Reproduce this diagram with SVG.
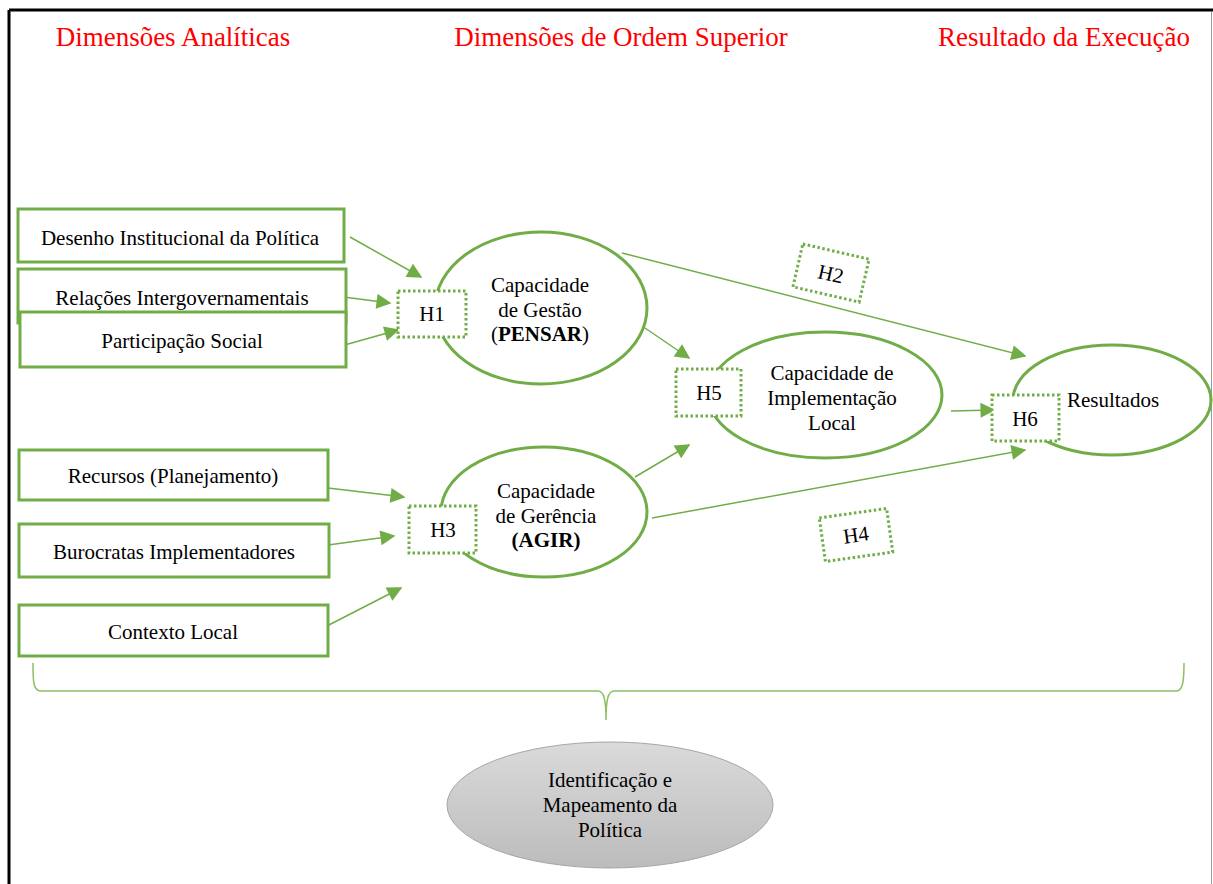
<svg xmlns="http://www.w3.org/2000/svg" width="1213" height="884" viewBox="0 0 1213 884">
<defs>
<style>
text{font-family:"Liberation Serif","Times New Roman",serif;font-size:21px;fill:#000}
.title{font-size:27px;fill:#ff0000}
.box{fill:#fff;stroke:#70ad47;stroke-width:3}
.ell{fill:#fff;stroke:#70ad47;stroke-width:3}
.hyp{fill:#fff;stroke:#70ad47;stroke-width:3;stroke-dasharray:2.5 2.5}
.con{stroke:#70ad47;stroke-width:1.5;fill:none;marker-end:url(#ah)}
.mid{text-anchor:middle}
</style>
<marker id="ah" viewBox="0 0 10 10" refX="9" refY="5" markerWidth="18" markerHeight="15" markerUnits="userSpaceOnUse" orient="auto">
<path d="M0,0 L10,5 L0,10 z" fill="#70ad47"/>
</marker>
<linearGradient id="gr" x1="0" y1="0" x2="0" y2="1">
<stop offset="0" stop-color="#dadada"/>
<stop offset="1" stop-color="#bcbcbc"/>
</linearGradient>
</defs>
<rect width="1213" height="884" fill="#fff"/>
<g id="frame">
<line x1="9" y1="10" x2="1213" y2="10" stroke="#000" stroke-width="3"/>
<line x1="9" y1="10" x2="9" y2="884" stroke="#000" stroke-width="3"/>
<line x1="1211.5" y1="12" x2="1211.5" y2="884" stroke="#999" stroke-width="1"/>
</g>
<g id="titles">
<text class="title mid" x="173" y="46">Dimensões Analíticas</text>
<text class="title mid" x="621" y="46">Dimensões de Ordem Superior</text>
<text class="title mid" x="1064" y="46">Resultado da Execução</text>
</g>
<g id="connectors">
<line class="con" x1="350" y1="237" x2="421" y2="277"/>
<line class="con" x1="336" y1="296" x2="390" y2="303"/>
<line class="con" x1="341" y1="346" x2="398" y2="330"/>
<line class="con" x1="622" y1="253" x2="1025" y2="356"/>
<line class="con" x1="645" y1="328" x2="689" y2="358"/>
<line class="con" x1="951" y1="411" x2="994" y2="410"/>
<line class="con" x1="635" y1="477" x2="689" y2="445"/>
<line class="con" x1="652" y1="518" x2="1025" y2="450"/>
<line class="con" x1="328" y1="488" x2="404" y2="497"/>
<line class="con" x1="328" y1="545" x2="394" y2="536"/>
<line class="con" x1="323" y1="628" x2="401" y2="588"/>
<path d="M33,663 C33,680 33,690 40,691 L598,691 C604,691 606,700 606,720 C606,700 608,691 614,691 L1177,691 C1183,690 1184,680 1184,663" fill="none" stroke="#8cc063" stroke-width="1.5"/>
</g>
<g id="n-desenho"><rect class="box" x="18" y="209" width="326" height="53"/><text class="mid" x="180" y="245">Desenho Institucional da Política</text></g>
<g id="n-relacoes"><rect class="box" x="18" y="269" width="328" height="54"/><text class="mid" x="182" y="305">Relações Intergovernamentais</text></g>
<g id="n-participacao"><rect class="box" x="20" y="312" width="326" height="55"/><text class="mid" x="182" y="348">Participação Social</text></g>
<g id="n-recursos"><rect class="box" x="19" y="450" width="309" height="50"/><text class="mid" x="173" y="483">Recursos (Planejamento)</text></g>
<g id="n-burocratas"><rect class="box" x="19" y="524" width="310" height="53"/><text class="mid" x="174" y="559">Burocratas Implementadores</text></g>
<g id="n-contexto"><rect class="box" x="19" y="605" width="309" height="51"/><text class="mid" x="173" y="639">Contexto Local</text></g>
<g id="n-gestao"><ellipse class="ell" cx="541" cy="308" rx="106" ry="76"/><text class="mid" x="540" y="292">Capacidade</text><text class="mid" x="540" y="317">de Gestão</text><text class="mid" x="540" y="341">(<tspan font-weight="bold">PENSAR</tspan>)</text></g>
<g id="n-gerencia"><ellipse class="ell" cx="544" cy="512" rx="103" ry="65"/><text class="mid" x="546" y="498">Capacidade</text><text class="mid" x="546" y="523">de Gerência</text><text class="mid" x="546" y="547" font-weight="bold">(AGIR)</text></g>
<g id="n-implementacao"><ellipse class="ell" cx="825" cy="395" rx="117" ry="63"/><text class="mid" x="832" y="380">Capacidade de</text><text class="mid" x="832" y="405">Implementação</text><text class="mid" x="832" y="430">Local</text></g>
<g id="n-resultados"><ellipse class="ell" cx="1112" cy="400" rx="99" ry="55"/><text class="mid" x="1113" y="407">Resultados</text></g>
<g id="h1"><rect class="hyp" x="398" y="291" width="68" height="46"/><text class="mid" x="432" y="321">H1</text></g>
<g id="h3"><rect class="hyp" x="409" y="506" width="67" height="47"/><text class="mid" x="443" y="537">H3</text></g>
<g id="h5"><rect class="hyp" x="676" y="369" width="65" height="47"/><text class="mid" x="709" y="400">H5</text></g>
<g id="h6"><rect class="hyp" x="992" y="395" width="67" height="46"/><text class="mid" x="1025" y="426">H6</text></g>
<g id="h2" transform="rotate(13 831 273)"><rect class="hyp" x="797" y="251" width="68" height="44"/><text class="mid" x="831" y="281">H2</text></g>
<g id="h4" transform="rotate(-8 856 535)"><rect class="hyp" x="822" y="513" width="68" height="44"/><text class="mid" x="856" y="542">H4</text></g>
<g id="n-identificacao"><ellipse cx="610" cy="805" rx="163" ry="63" fill="url(#gr)" stroke="#a6a6a6" stroke-width="1"/><text class="mid" x="610" y="787">Identificação e</text><text class="mid" x="610" y="812">Mapeamento da</text><text class="mid" x="610" y="837">Política</text></g>
</svg>
